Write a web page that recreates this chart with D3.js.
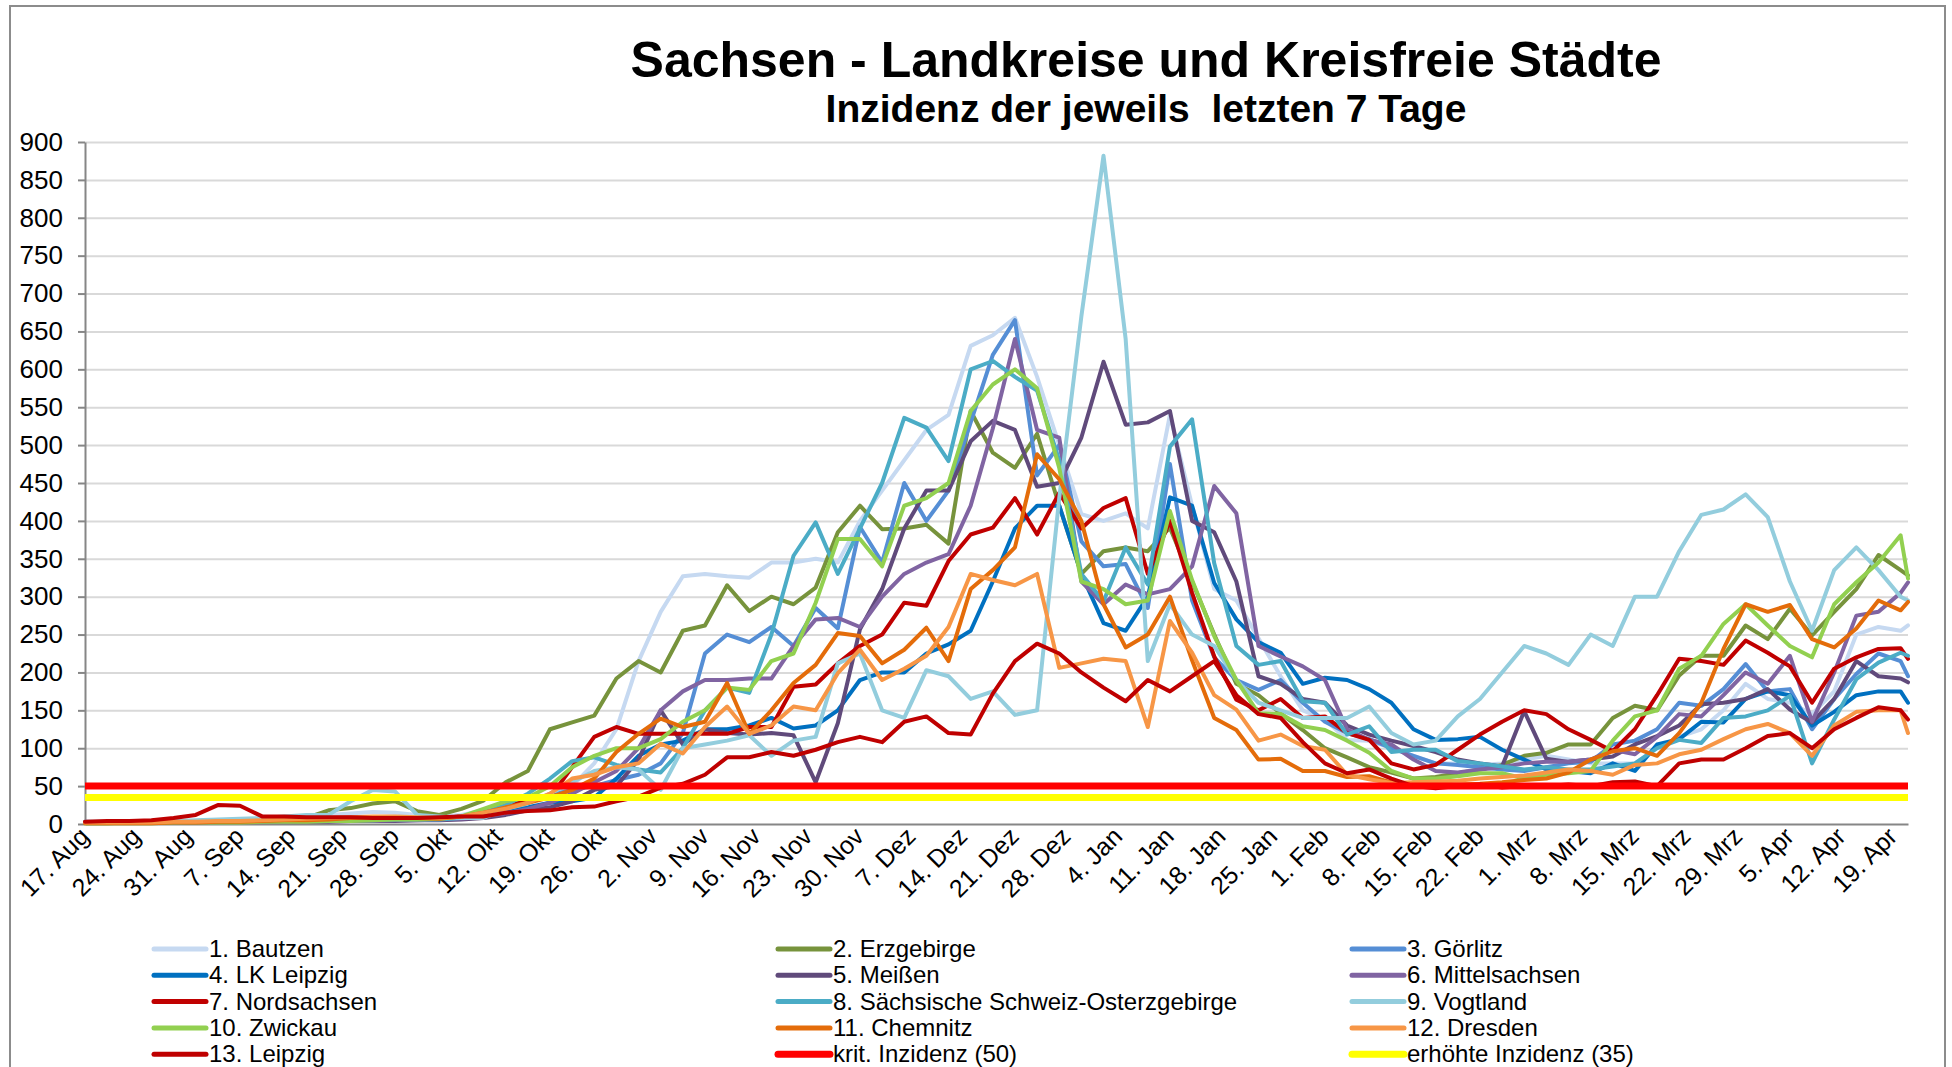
<!DOCTYPE html>
<meta charset="utf-8">
<head>
  <script src="https://d3js.org/d3.v7.min.js"></script>
  <style>
    body { margin: 0; background: #fff; }
    text { font-family: "Liberation Sans", Arial, sans-serif; }
  </style>
</head>
<body>
  <div id="chart"></div>
</body>
<script>

  var days = [0,3,6,9,12,15,18,21,24,27, 30,33,36,39,42,45,48,51,54,57,
    60,63,66,69,72,75,78,81,84,87, 90,93,96,99,102,105,108,111,114,117,
    120,123,126,129,132,135,138,141,144,147, 150,153,156,159,162,165,168,171,174,177,
    180,183,186,189,192,195,198,201,204,207, 210,213,216,219,222,225,228,231,234,237,
    240,243,246,247];

  var tickDays = [0,7,14,21,28,35,42,49,56,63,70,77,84,91,98,105,112,119,126,133,140,147,154,161,
    168,175,182,189,196,203,210,217,224,231,238,245];
  var tickLabels = ["17. Aug","24. Aug","31. Aug","7. Sep","14. Sep","21. Sep","28. Sep","5. Okt",
    "12. Okt","19. Okt","26. Okt","2. Nov","9. Nov","16. Nov","23. Nov","30. Nov","7. Dez","14. Dez",
    "21. Dez","28. Dez","4. Jan","11. Jan","18. Jan","25. Jan","1. Feb","8. Feb","15. Feb","22. Feb",
    "1. Mrz","8. Mrz","15. Mrz","22. Mrz","29. Mrz","5. Apr","12. Apr","19. Apr"];

  var yTicks = [0,50,100,150,200,250,300,350,400,450,500,550,600,650,700,750,800,850,900];

  var bautzen = [2,2,2,2,3,3,4,5,6,8, 10,12,14,16,15,12,10,12,18,25,
    30,38,50,80,125,215,280,327,330,327, 325,345,345,350,345,400,440,480,520,540,
    631,645,668,590,500,409,400,410,390,540, 420,310,295,245,195,150,138,111,110,100,
    90,80,80,78,80,85,90,85,80,80, 80,100,115,125,150,185,165,160,145,175,
    250,260,255,262];
  var erzgebirge = [1,1,2,2,3,4,5,5,6,7, 8,18,21,27,30,17,12,20,31,55,
    70,125,134,143,192,215,200,255,262,315, 281,300,290,312,385,420,389,390,395,370,
    545,490,470,515,420,330,360,365,360,391, 320,250,185,170,146,124,100,88,75,68,
    60,62,67,72,78,90,94,105,105,140, 156,150,196,222,222,262,244,284,249,280,
    310,355,335,328];
  var goerlitz = [3,2,2,2,3,3,4,5,5,6, 6,6,7,8,8,8,8,10,15,22,
    30,38,45,50,58,65,80,120,225,250, 240,260,235,285,258,392,345,450,400,440,
    530,619,665,460,500,373,340,343,285,475, 295,220,190,177,190,160,135,120,112,100,
    90,80,78,75,72,70,75,80,82,105, 110,125,160,156,178,211,175,178,125,165,
    198,225,215,195];
  var lkLeipzig = [2,2,2,2,2,3,3,4,4,5, 5,5,5,5,6,6,7,10,14,18,
    22,28,30,35,60,90,105,110,125,125, 130,140,126,130,150,190,200,200,225,237,
    255,320,390,420,420,330,265,255,300,431, 420,318,270,240,226,185,193,190,178,160,
    125,111,112,115,98,85,72,70,67,80, 70,105,112,135,134,165,175,170,130,148,
    170,175,175,160];
  var meissen = [2,2,2,2,2,2,3,3,3,3, 3,3,4,4,4,5,5,6,8,12,
    18,22,30,45,50,85,150,105,125,120, 118,120,117,55,133,257,310,390,440,440,
    505,532,520,445,450,510,610,527,530,545, 400,385,320,195,185,165,160,130,118,110,
    103,95,85,80,76,149,86,82,85,89, 105,116,130,158,160,165,178,151,134,165,
    215,195,192,187];
  var mittelsachsen = [2,2,2,2,2,2,3,3,3,3, 4,4,4,4,5,5,6,7,10,14,
    20,28,40,55,70,100,150,175,190,190, 192,192,235,270,272,260,300,330,345,356,
    420,522,640,520,510,320,290,316,303,310, 340,446,410,235,221,208,190,125,111,105,
    85,70,68,72,75,80,82,82,85,98, 92,115,145,142,170,200,185,222,135,200,
    275,280,305,319];
  var nordsachsen = [2,2,2,3,3,3,4,4,5,5, 5,6,6,6,7,7,8,10,15,22,
    32,35,75,115,128,119,119,119,119,119, 128,128,181,184,212,235,250,292,288,347,
    382,391,430,382,437,390,417,430,330,400, 305,221,164,150,165,140,142,120,111,80,
    72,78,98,118,135,150,145,125,111,96, 125,170,218,215,210,242,226,208,160,205,
    220,231,232,218];
  var saechsSchweiz = [2,2,2,2,2,3,3,3,4,4, 4,5,5,5,6,6,6,8,15,25,
    40,60,83,88,78,72,68,100,150,180, 173,250,354,398,330,390,450,536,523,479,
    600,611,590,572,480,330,294,365,316,498, 534,344,235,210,215,162,160,118,129,95,
    98,98,83,80,76,72,75,72,72,76, 80,100,111,107,140,142,150,169,80,138,
    191,213,226,222];
  var vogtland = [3,3,3,3,4,5,6,7,8,10, 12,12,30,45,43,12,10,8,8,20,
    27,40,55,70,75,72,45,100,105,110, 117,90,110,115,212,225,150,140,203,195,
    165,175,144,150,430,670,882,640,215,290, 250,235,190,160,150,140,140,140,155,120,
    105,110,142,165,200,235,225,210,250,235, 300,300,360,408,415,435,405,320,255,335,
    365,335,300,295];
  var zwickau = [1,1,1,1,2,2,2,2,3,3, 3,4,4,5,6,6,7,10,20,30,
    35,50,75,90,100,100,112,135,150,180, 177,215,225,292,376,376,340,420,430,450,
    545,580,600,575,470,320,310,290,295,413, 322,248,190,146,145,129,124,110,94,70,
    60,60,63,67,67,60,65,67,70,110, 142,150,205,222,264,290,262,235,220,290,
    319,345,381,324];
  var chemnitz = [1,1,1,1,2,2,3,3,4,5, 5,6,8,9,9,8,7,10,15,22,
    28,35,45,60,95,119,139,128,135,186, 119,150,186,210,252,248,212,230,259,215,
    310,335,365,488,455,400,290,233,250,300, 216,140,124,85,86,70,70,62,63,55,
    52,50,52,53,55,58,60,68,85,96, 100,90,120,160,231,290,280,289,244,233,
    258,295,282,293];
  var dresden = [2,2,2,2,3,3,4,4,5,6, 7,8,9,10,10,9,8,10,15,20,
    28,40,60,65,75,80,106,93,128,155, 119,130,155,150,199,230,190,205,222,260,
    330,322,315,330,206,212,218,215,128,268, 226,170,151,110,118,103,98,65,59,54,
    55,56,57,60,62,64,68,72,70,65, 78,80,92,98,112,125,132,120,90,130,
    148,150,150,120];
  var leipzig = [3,4,4,5,8,12,25,24,10,10, 9,9,9,8,8,8,9,10,10,15,
    17,18,22,23,30,36,48,53,65,88, 88,95,90,98,108,115,108,135,142,120,
    118,172,215,238,225,200,180,162,190,175, 195,215,170,145,140,108,80,67,72,60,
    50,47,50,52,48,50,50,52,50,55, 56,50,80,85,85,100,116,120,100,125,
    140,154,150,138];

  var kritInzidenz = 50;
  var erhoehteInzidenz = 35;

  var seriesNames = ["1. Bautzen","2. Erzgebirge","3. Görlitz","4. LK Leipzig","5. Meißen",
    "6. Mittelsachsen","7. Nordsachsen","8. Sächsische Schweiz-Osterzgebirge","9. Vogtland",
    "10. Zwickau","11. Chemnitz","12. Dresden","13. Leipzig"];
  var seriesValues = [bautzen, erzgebirge, goerlitz, lkLeipzig, meissen, mittelsachsen, nordsachsen,
    saechsSchweiz, vogtland, zwickau, chemnitz, dresden, leipzig];
  var seriesColors = ["#C6D9F1","#77933C","#558ED5","#0070C0","#604A7B","#8064A2","#C00000",
    "#4BACC6","#93CDDD","#92D050","#E46C0A","#F79646","#BF0000"];

  var W = 1952, H = 1067;
  var plot = { left: 85, right: 1908, top: 142, bottom: 824 };

  var svg = d3.select("#chart").append("svg")
    .attr("width", W)
    .attr("height", H);

  // outer frame
  svg.append("rect")
    .attr("x", 10).attr("y", 6)
    .attr("width", 1935).attr("height", 1080)
    .attr("fill", "none")
    .attr("stroke", "#8c8c8c")
    .attr("stroke-width", 2);

  // title
  svg.append("text")
    .attr("x", 1146).attr("y", 77)
    .attr("text-anchor", "middle")
    .style("font-size", "50px").style("font-weight", "bold")
    .text("Sachsen - Landkreise und Kreisfreie Städte");
  svg.append("text")
    .attr("x", 1146).attr("y", 122)
    .attr("text-anchor", "middle")
    .style("font-size", "39px").style("font-weight", "bold")
    .style("white-space", "pre")
    .attr("xml:space", "preserve")
    .text("Inzidenz der jeweils  letzten 7 Tage");

  var x = d3.scaleLinear().domain([0, 247]).range([plot.left, plot.right]);
  var y = d3.scaleLinear().domain([0, 900]).range([plot.bottom, plot.top]);

  // gridlines
  svg.append("g")
    .attr("transform", "translate(" + plot.left + ",0)")
    .call(d3.axisLeft(y).tickValues(yTicks.slice(1)).tickSize(-(plot.right - plot.left)).tickFormat(""))
    .call(function (g) {
      g.select(".domain").remove();
      g.selectAll("line").attr("stroke", "#D9D9D9").attr("stroke-width", 2);
    });

  // y axis
  svg.append("g")
    .attr("transform", "translate(" + plot.left + ",0)")
    .call(d3.axisLeft(y).tickValues(yTicks).tickSize(7).tickSizeOuter(0).tickPadding(15))
    .call(function (g) {
      g.select(".domain").attr("stroke", "#868686").attr("stroke-width", 2);
      g.selectAll("line").attr("stroke", "#868686").attr("stroke-width", 2);
      g.selectAll("text").style("font-size", "26px").attr("fill", "#000");
    });

  // x axis
  svg.append("g")
    .attr("transform", "translate(0," + plot.bottom + ")")
    .call(d3.axisBottom(x).tickValues(tickDays).tickSize(0).tickSizeOuter(0)
      .tickFormat(function (d, i) { return tickLabels[i]; }))
    .call(function (g) {
      g.select(".domain").attr("stroke", "#868686").attr("stroke-width", 2);
      g.selectAll("text")
        .style("font-size", "25px").attr("fill", "#000")
        .attr("text-anchor", "end")
        .attr("dy", null)
        .attr("y", 0)
        .attr("transform", "translate(5,14) rotate(-45)");
    });

  // series lines
  var line = d3.line()
    .x(function (d) { return x(d[0]); })
    .y(function (d) { return y(d[1]); });

  seriesValues.forEach(function (vals, i) {
    svg.append("path")
      .datum(days.map(function (d, k) { return [d, vals[k]]; }))
      .attr("fill", "none")
      .attr("stroke", seriesColors[i])
      .attr("stroke-width", 4)
      .attr("stroke-linejoin", "round")
      .attr("stroke-linecap", "round")
      .attr("d", line);
  });

  // threshold lines
  svg.append("path")
    .datum([[0, kritInzidenz], [247, kritInzidenz]])
    .attr("stroke", "#FF0000").attr("stroke-width", 7).attr("d", line);
  svg.append("path")
    .datum([[0, erhoehteInzidenz], [247, erhoehteInzidenz]])
    .attr("stroke", "#FFFF00").attr("stroke-width", 7).attr("d", line);

  // legend
  var legendNames = seriesNames.concat(["krit. Inzidenz (50)", "erhöhte Inzidenz (35)"]);
  var legendColors = seriesColors.concat(["#FF0000", "#FFFF00"]);
  var colX = [154, 778, 1352];
  var legend = svg.append("g");
  legendNames.forEach(function (name, i) {
    var cx = colX[i % 3], cy = 949 + Math.floor(i / 3) * 26.3;
    legend.append("line")
      .attr("x1", cx).attr("x2", cx + 52)
      .attr("y1", cy).attr("y2", cy)
      .attr("stroke", legendColors[i])
      .attr("stroke-width", i >= 13 ? 7 : 5)
      .attr("stroke-linecap", "round");
    legend.append("text")
      .attr("x", cx + 55).attr("y", cy + 8)
      .style("font-size", "24px")
      .text(name);
  });

</script>
